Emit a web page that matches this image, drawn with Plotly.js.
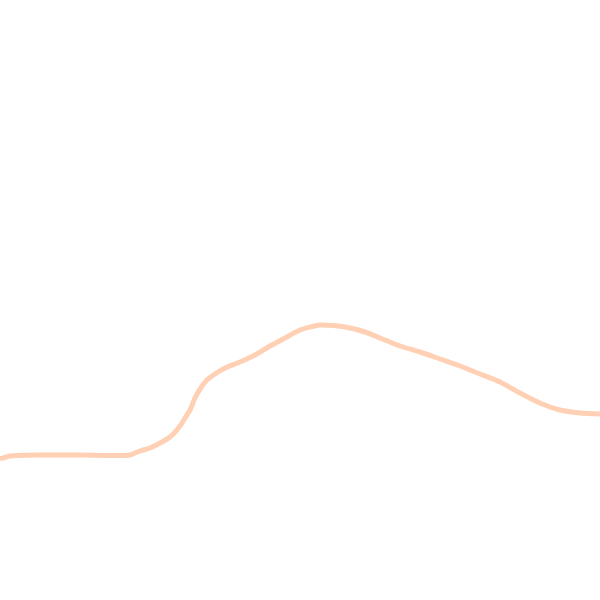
<!DOCTYPE html>
<html>
<head>
<meta charset="utf-8">
<script src="https://cdn.plot.ly/plotly-3.0.1.min.js"></script>
<style>
  html, body { margin: 0; padding: 0; background: #fff; }
  #chart { width: 600px; height: 600px; }
</style>
</head>
<body>
<div id="chart"></div>
<script>
// curve values (x across, y up)
var xs = [0, 10, 40, 80, 130, 140, 150, 160, 170, 180, 185, 190, 195, 200, 207, 215, 225, 240, 255, 270, 285, 300, 320, 345, 365, 385, 400, 420, 440, 460, 480, 500, 520, 540, 560, 580, 600];
var ys = [141, 144, 145, 145, 145, 149, 152, 157, 163, 174, 182, 190, 202, 211, 220, 226, 232, 238, 245, 254, 262, 270, 275, 273, 268, 260, 254, 248, 241, 234, 226, 218, 207, 197, 190, 187, 186];

var trace = {
  x: xs,
  y: ys,
  type: 'scatter',
  mode: 'lines',
  line: { color: '#ffd0b4', width: 5, shape: 'spline', smoothing: 0.6 },
  hoverinfo: 'skip'
};

var layout = {
  width: 600,
  height: 600,
  margin: { l: 0, r: 0, t: 0, b: 0 },
  paper_bgcolor: '#ffffff',
  plot_bgcolor: '#ffffff',
  showlegend: false,
  xaxis: { range: [0, 600], visible: false, fixedrange: true },
  yaxis: { range: [0, 600], visible: false, fixedrange: true }
};

Plotly.newPlot('chart', [trace], layout, { displayModeBar: false, staticPlot: true });
</script>
</body>
</html>
